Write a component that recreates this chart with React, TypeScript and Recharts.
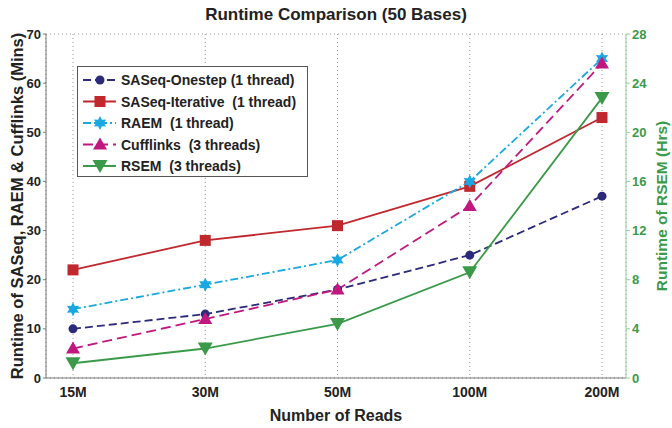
import { LineChart, Line, XAxis, YAxis, CartesianGrid } from 'recharts';

const FONT = '"Liberation Sans", Arial, Helvetica, sans-serif';
const GREEN = '#3a9a4a';

// x categories
const reads = ['15M', '30M', '50M', '100M', '200M'];

// runtimes in minutes (left axis)
const onestep = [10, 13, 18, 25, 37];
const iterative = [22, 28, 31, 39, 53];
const raem = [14, 19, 24, 40, 65];
const cufflinks = [6, 12, 18, 35, 64];
// RSEM in hours (right axis)
const rsem = [1.2, 2.4, 4.4, 8.6, 22.8];

const leftTicks = [0, 10, 20, 30, 40, 50, 60, 70];
const rightTicks = [0, 4, 8, 12, 16, 20, 24, 28];

const data = reads.map((r, i) => ({
  reads: r,
  onestep: onestep[i],
  iterative: iterative[i],
  raem: raem[i],
  cufflinks: cufflinks[i],
  rsem: rsem[i],
}));

type Shape = 'circle' | 'square' | 'star' | 'tri' | 'tridown';

function Marker({ cx, cy, shape, color }: { cx: number; cy: number; shape: Shape; color: string }) {
  if (shape === 'circle') return <circle cx={cx} cy={cy} r={4.5} fill={color} />;
  if (shape === 'square') return <rect x={cx - 5.5} y={cy - 5.5} width={11} height={11} fill={color} />;
  if (shape === 'tri')
    return <polygon points={`${cx},${cy - 7} ${cx - 7},${cy + 5} ${cx + 7},${cy + 5}`} fill={color} />;
  if (shape === 'tridown')
    return <polygon points={`${cx - 7.5},${cy - 6} ${cx + 7.5},${cy - 6} ${cx},${cy + 7}`} fill={color} />;
  // six-point star
  const pts: string[] = [];
  for (let k = 0; k < 12; k++) {
    const a = (Math.PI / 6) * k - Math.PI / 2;
    const rr = k % 2 === 0 ? 7 : 3.8;
    pts.push(`${cx + rr * Math.cos(a)},${cy + rr * Math.sin(a)}`);
  }
  return <polygon points={pts.join(' ')} fill={color} />;
}

const series = [
  { key: 'onestep', name: 'SASeq-Onestep (1 thread)', color: '#2b2a7b', shape: 'circle' as Shape, dash: '8 4', axis: 'left' },
  { key: 'iterative', name: 'SASeq-Iterative  (1 thread)', color: '#c0282e', shape: 'square' as Shape, dash: undefined, axis: 'left' },
  { key: 'raem', name: 'RAEM  (1 thread)', color: '#1aa8e0', shape: 'star' as Shape, dash: '8 3 2 3', axis: 'left' },
  { key: 'cufflinks', name: 'Cufflinks  (3 threads)', color: '#c0187f', shape: 'tri' as Shape, dash: '10 5', axis: 'left' },
  { key: 'rsem', name: 'RSEM  (3 threads)', color: GREEN, shape: 'tridown' as Shape, dash: undefined, axis: 'right' },
];

function LegendBox() {
  return (
    <svg width={231} height={111} style={{ display: 'block' }}>
      <rect x={0.5} y={0.5} width={230} height={110} fill="#fff" stroke="#555" strokeWidth={1} />
      {series.map((s, i) => {
        const y = 14 + i * 21.5;
        return (
          <g key={s.key}>
            <line x1={6} x2={39} y1={y} y2={y} stroke={s.color} strokeWidth={2} strokeDasharray={s.dash} />
            <Marker cx={23} cy={y} shape={s.shape} color={s.color} />
            <text x={44} y={y + 5} fontFamily={FONT} fontWeight="bold" fontSize={14} fill="#222" style={{ whiteSpace: 'pre' }}>
              {s.name}
            </text>
          </g>
        );
      })}
    </svg>
  );
}

export default function App() {
  return (
    <div style={{ position: 'absolute', left: 0, top: 0, width: 672, height: 428, background: '#fff' }}>
      <div
        style={{
          position: 'absolute',
          left: 0,
          top: 5,
          width: 672,
          textAlign: 'center',
          fontFamily: FONT,
          fontWeight: 'bold',
          fontSize: 17,
          color: '#222',
        }}
      >
        Runtime Comparison (50 Bases)
      </div>
      <LineChart width={672} height={428} data={data} margin={{ top: 34, right: 0, bottom: 0, left: 0 }}>
        <CartesianGrid stroke="#999" strokeDasharray="1 3" />
        <XAxis
          dataKey="reads"
          scale="point"
          padding={{ left: 27, right: 24 }}
          height={50}
          stroke="#777"
          tickSize={0}
          tick={{ fontFamily: FONT, fontWeight: 'bold', fontSize: 14, fill: '#222', dy: 7 }}
          label={{ value: 'Number of Reads', position: 'insideBottom', offset: 7, fontFamily: FONT, fontWeight: 'bold', fontSize: 16, fill: '#222' }}
        />
        <YAxis
          yAxisId="left"
          domain={[0, 70]}
          ticks={leftTicks}
          width={46}
          stroke="#777"
          tickSize={3}
          tick={{ fontFamily: FONT, fontWeight: 'bold', fontSize: 13, fill: '#222' }}
          label={{
            value: 'Runtime of SASeq, RAEM & Cufflinks (Mins)',
            angle: -90,
            position: 'insideLeft',
            offset: 0,
            dx: 17,
            fontFamily: FONT,
            fontWeight: 'bold',
            fontSize: 16.5,
            fill: '#222',
            style: { textAnchor: 'middle' },
          }}
        />
        <YAxis
          yAxisId="right"
          orientation="right"
          domain={[0, 28]}
          ticks={rightTicks}
          width={46}
          stroke="#8fd09a"
          tickSize={4}
          tick={{ fontFamily: FONT, fontWeight: 'bold', fontSize: 13, fill: GREEN }}
          label={{
            value: 'Runtime of RSEM (Hrs)',
            angle: -90,
            position: 'insideRight',
            offset: 0,
            dx: -11,
            fontFamily: FONT,
            fontWeight: 'bold',
            fontSize: 15.5,
            fill: GREEN,
            style: { textAnchor: 'middle' },
          }}
        />
        {series.map((s) => (
          <Line
            key={s.key}
            yAxisId={s.axis}
            dataKey={s.key}
            name={s.name}
            stroke={s.color}
            strokeWidth={1.8}
            strokeDasharray={s.dash}
            isAnimationActive={false}
            dot={(p: any) => <Marker key={`${s.key}-${p.index}`} cx={p.cx} cy={p.cy} shape={s.shape} color={s.color} />}
            activeDot={false}
          />
        ))}
      </LineChart>
      <div style={{ position: 'absolute', left: 77, top: 66 }}>
        <LegendBox />
      </div>
    </div>
  );
}
